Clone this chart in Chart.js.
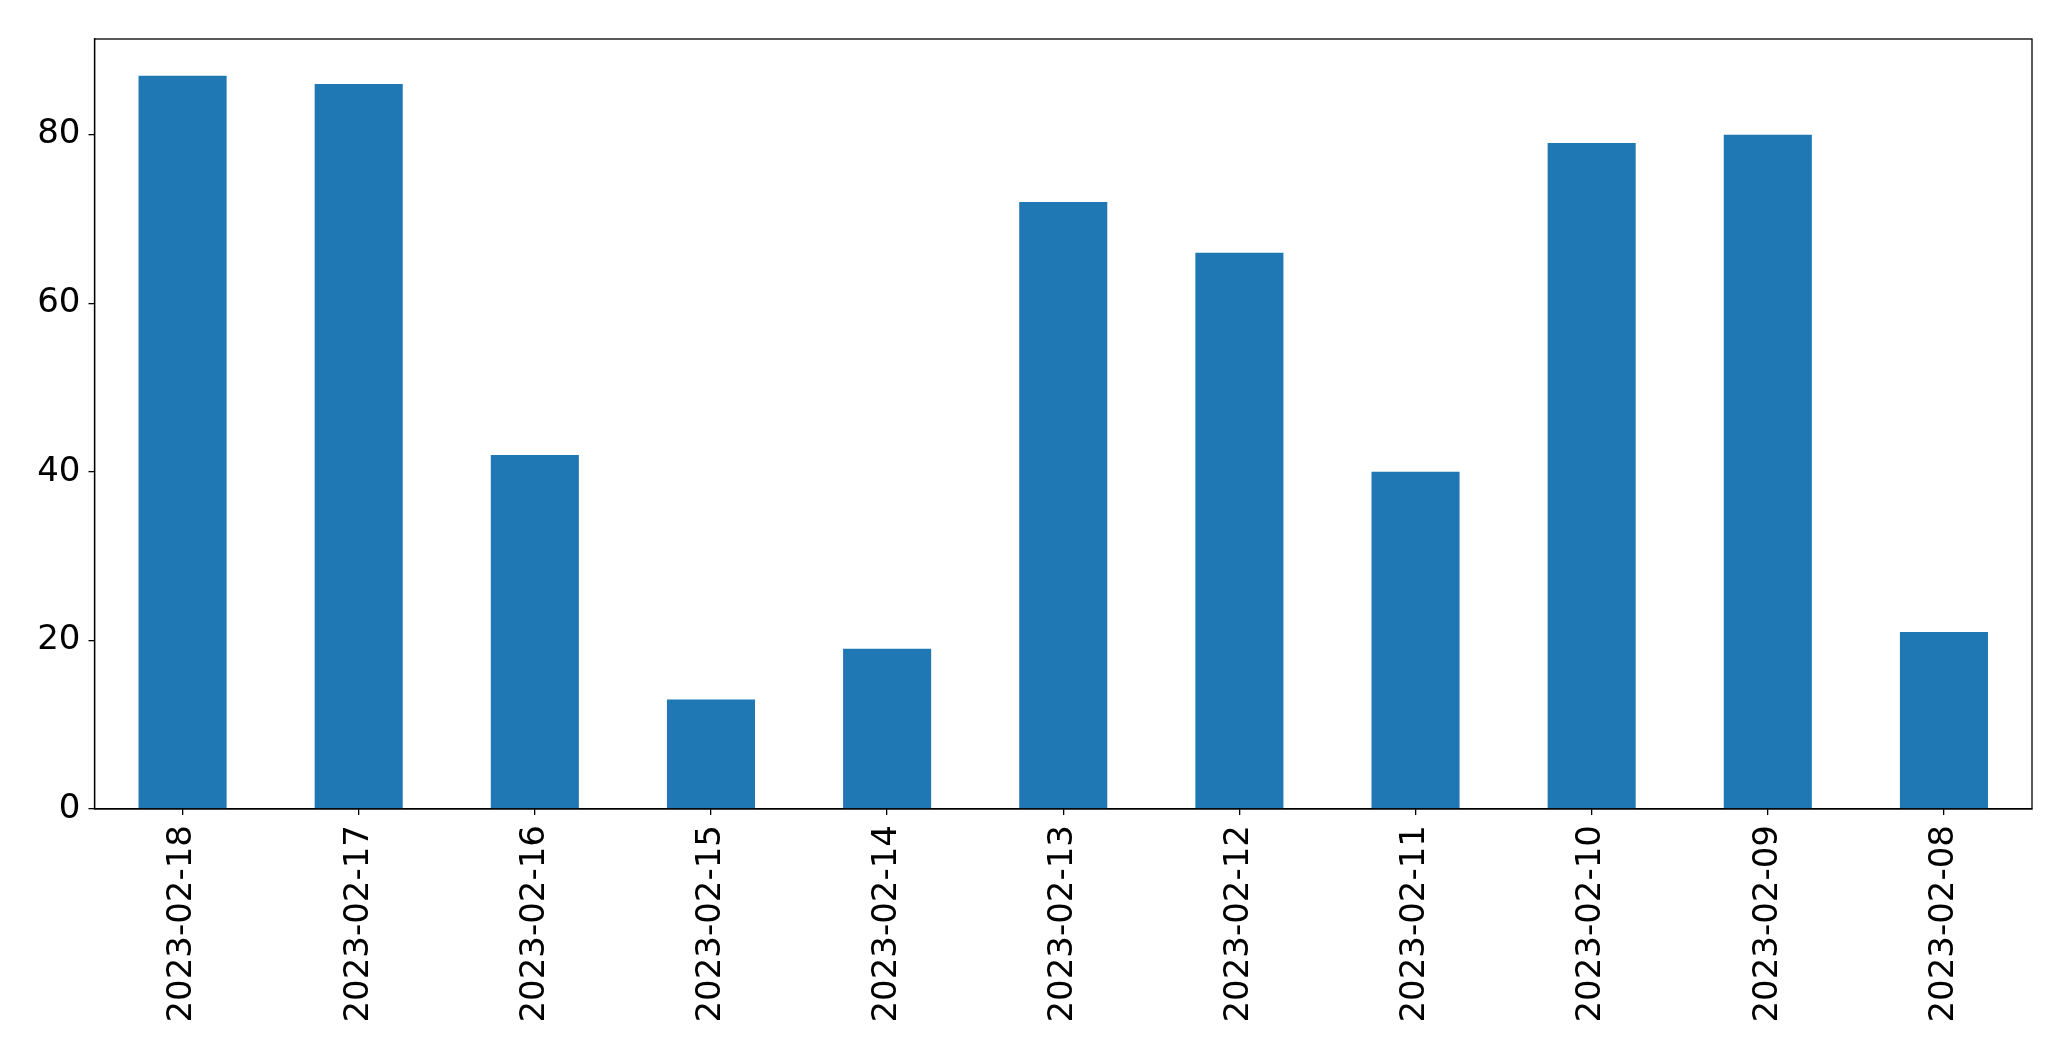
<!DOCTYPE html>
<html lang="en">
<head>
  <meta charset="UTF-8">
  <title>Daily counts</title>
  <script src="https://cdn.jsdelivr.net/npm/chart.js"></script>
  <style>
    html, body { margin: 0; padding: 0; background: #ffffff; }
    #wrap { width: 2071px; height: 1061px; }
  </style>
</head>
<body>
  <div id="wrap"><canvas id="bar-chart" width="2071" height="1061"></canvas></div>
  <script>
    const dates = ['2023-02-18', '2023-02-17', '2023-02-16', '2023-02-15', '2023-02-14', '2023-02-13',
                   '2023-02-12', '2023-02-11', '2023-02-10', '2023-02-09', '2023-02-08'];
    const counts = [87, 86, 42, 13, 19, 72, 66, 40, 79, 80, 21];
    const yTicks = [0, 20, 40, 60, 80];

    // frame around the plot area, like matplotlib's spines
    const boxPlugin = {
      id: 'box',
      afterDraw(chart) {
        const a = chart.chartArea;
        const ctx = chart.ctx;
        ctx.save();
        ctx.strokeStyle = '#000000';
        ctx.lineWidth = 1.3;
        ctx.strokeRect(a.left, a.top, a.right - a.left, a.bottom - a.top);
        ctx.restore();
      }
    };

    const font = { family: 'DejaVu Sans', size: 34 };

    new Chart(document.getElementById('bar-chart').getContext('2d'), {
      type: 'bar',
      data: {
        labels: dates,
        datasets: [{
          data: counts,
          backgroundColor: '#1f77b4',
          borderWidth: 0,
          barPercentage: 0.5,
          categoryPercentage: 1.0
        }]
      },
      options: {
        responsive: false,
        animation: false,
        layout: { padding: { top: 39, right: 39, left: 0, bottom: 0 } },
        plugins: { legend: { display: false }, tooltip: { enabled: false } },
        scales: {
          x: {
            grid: { display: true, offset: false, drawOnChartArea: false, drawTicks: true, tickLength: 6, color: '#000000', lineWidth: 1.3 },
            border: { display: true, color: '#000000', width: 1.3 },
            ticks: { color: '#000000', font: font, minRotation: 90, maxRotation: 90, padding: 10, autoSkip: false },
            afterFit(scale) { scale.height = 1061 - 809; }
          },
          y: {
            min: 0,
            max: 91.35,
            grid: { display: true, drawOnChartArea: false, drawTicks: true, tickLength: 6, color: '#000000', lineWidth: 1.3 },
            border: { display: true, color: '#000000', width: 1.3 },
            afterBuildTicks(scale) { scale.ticks = yTicks.map(v => ({ value: v })); },
            ticks: { color: '#000000', font: font, padding: 8 },
            afterFit(scale) { scale.width = 94.5; }
          }
        }
      },
      plugins: [boxPlugin]
    });
  </script>
</body>
</html>
